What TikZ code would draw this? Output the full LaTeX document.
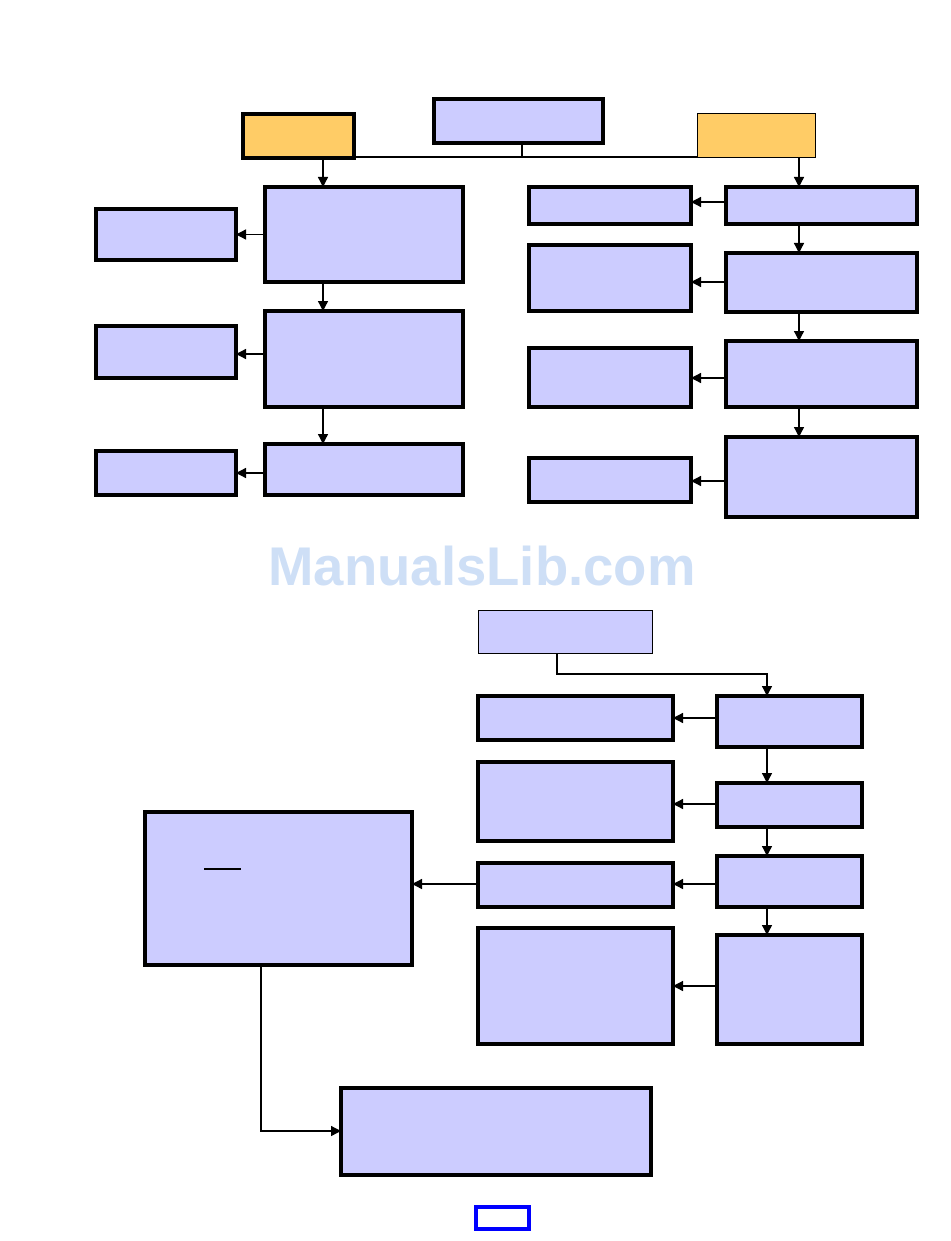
\documentclass[tikz,border=0pt]{standalone}
\usepackage{fontspec}
\usetikzlibrary{arrows.meta}
\definecolor{boxfill}{HTML}{CCCCFF}
\definecolor{orangefill}{HTML}{FFCC66}
\definecolor{wmblue}{HTML}{CEDFF6}
\newfontfamily\wmfont{Liberation Sans}
\newcommand\bx[6]{\node[#6, minimum width={(#4-#2)*1pt}, minimum height={(#5-#3)*1pt}] (#1) at ({(#2+#4)/2},{(#3+#5)/2}) {};}
\tikzset{
  thickbox/.style={draw=black, fill=boxfill, line width=3.3pt, inner sep=0pt, outer sep=0pt},
  thinbox/.style={draw=black, fill=boxfill, line width=1pt, inner sep=0pt, outer sep=0pt},
  orthick/.style={thickbox, fill=orangefill},
  orthin/.style={thinbox, fill=orangefill},
  conn/.style={line width=1.3pt},
  arr/.style={line width=1.3pt, -{Triangle[width=10pt,length=10pt]}},
}
\begin{document}
\begin{tikzpicture}[x=1pt,y=-1pt]
\useasboundingbox (0,0) rectangle (950,1241);
% watermark
\node[text=wmblue, font=\wmfont\bfseries\fontsize{54.5}{60}\selectfont, inner sep=0pt] (wm) at (482,566) {ManualsLib.com};
% top section
\bx{A}{434}{99}{603}{143}{thickbox}
\bx{LO}{243}{114}{354}{158}{orthick}
\bx{RO}{697}{114}{815}{158}{orthin}
\bx{L1}{265}{187}{463}{282}{thickbox}
\bx{L2}{265}{311}{463}{407}{thickbox}
\bx{L3}{265}{444}{463}{495}{thickbox}
\bx{S1}{96}{209}{236}{260}{thickbox}
\bx{S2}{96}{326}{236}{378}{thickbox}
\bx{S3}{96}{451}{236}{495}{thickbox}
\bx{R1}{726}{187}{917}{224}{thickbox}
\bx{R2}{726}{253}{917}{312}{thickbox}
\bx{R3}{726}{341}{917}{407}{thickbox}
\bx{R4}{726}{437}{917}{517}{thickbox}
\bx{T1}{529}{187}{691}{224}{thickbox}
\bx{T2}{529}{245}{691}{311}{thickbox}
\bx{T3}{529}{348}{691}{407}{thickbox}
\bx{T4}{529}{458}{691}{502}{thickbox}
\coordinate (hy) at (522,157);
\coordinate (xl) at (323,0);
\coordinate (xr) at (799,0);
\draw[conn] (LO.east |- hy) -- (RO.west |- hy);
\draw[conn] (A.south -| hy) -- (hy);
\draw[arr] (LO.south -| xl) -- (L1.north -| xl);
\draw[arr] (L1.south -| xl) -- (L2.north -| xl);
\draw[arr] (L2.south -| xl) -- (L3.north -| xl);
\draw[arr] (L1.west |- S1.east) -- (S1.east);
\draw[arr] (L2.west |- 0,354) -- (S2.east |- 0,354);
\draw[arr] (L3.west |- S3.east) -- (S3.east);
\draw[arr] (RO.south -| xr) -- (R1.north -| xr);
\draw[arr] (R1.south -| xr) -- (R2.north -| xr);
\draw[arr] (R2.south -| xr) -- (R3.north -| xr);
\draw[arr] (R3.south -| xr) -- (R4.north -| xr);
\draw[arr] (R1.west |- 0,202) -- (T1.east |- 0,202);
\draw[arr] (R2.west |- 0,282) -- (T2.east |- 0,282);
\draw[arr] (R3.west |- 0,378) -- (T3.east |- 0,378);
\draw[arr] (R4.west |- 0,481) -- (T4.east |- 0,481);
% bottom section
\bx{B0}{478}{610}{652}{653}{thinbox}
\bx{D1}{717}{696}{862}{747}{thickbox}
\bx{D2}{717}{783}{862}{827}{thickbox}
\bx{D3}{717}{856}{862}{907}{thickbox}
\bx{D4}{717}{935}{862}{1044}{thickbox}
\bx{E1}{478}{696}{673}{740}{thickbox}
\bx{E2}{478}{762}{673}{841}{thickbox}
\bx{E3}{478}{863}{673}{907}{thickbox}
\bx{E4}{478}{928}{673}{1044}{thickbox}
\bx{F}{145}{812}{412}{965}{thickbox}
\bx{G}{341}{1088}{651}{1175}{thickbox}
\node[draw=blue, line width=3.3pt, minimum width=53pt, minimum height=22pt, inner sep=0pt] (pg) at (502.5,1218) {};
\coordinate (k1) at (557,674);
\coordinate (k2) at (767,674);
\coordinate (xd) at (767,0);
\coordinate (k3) at (261,1131);
\draw[arr] (B0.south -| k1) -- (k1) -- (k2) -- (D1.north -| k2);
\draw[arr] (D1.south -| xd) -- (D2.north -| xd);
\draw[arr] (D2.south -| xd) -- (D3.north -| xd);
\draw[arr] (D3.south -| xd) -- (D4.north -| xd);
\draw[arr] (D1.west |- 0,718) -- (E1.east |- 0,718);
\draw[arr] (D2.west |- 0,804) -- (E2.east |- 0,804);
\draw[arr] (D3.west |- 0,884) -- (E3.east |- 0,884);
\draw[arr] (D4.west |- 0,986) -- (E4.east |- 0,986);
\draw[arr] (E3.west |- 0,884) -- (F.east |- 0,884);
\draw[arr] (F.south -| k3) -- (k3) -- (G.west |- k3);
\draw[line width=1.2pt] (204,869) -- (241,869);
\end{tikzpicture}
\end{document}
